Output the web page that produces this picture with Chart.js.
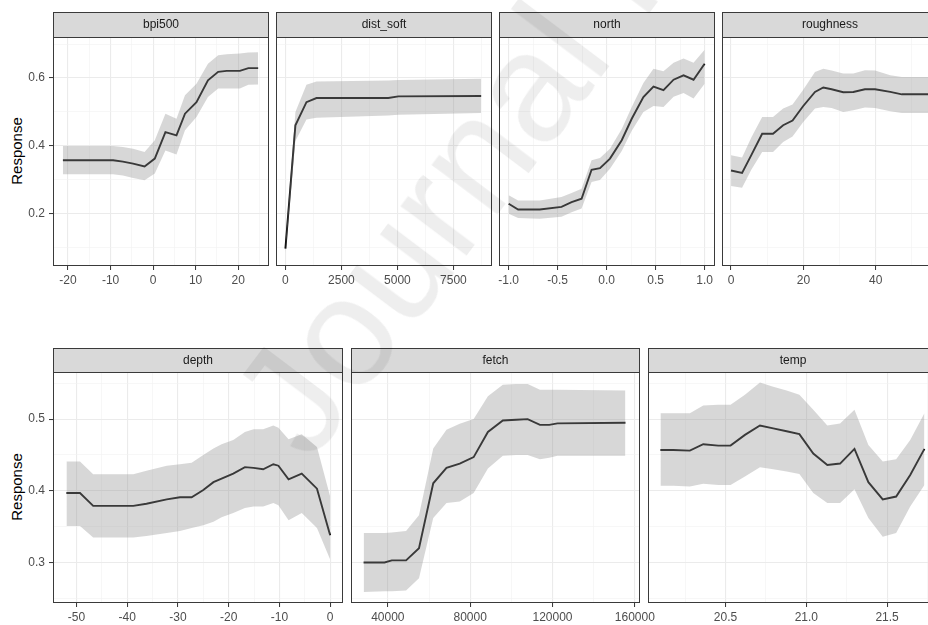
<!DOCTYPE html>
<html>
<head>
<meta charset="utf-8">
<script src="https://cdn.jsdelivr.net/npm/chart.js@4.4.1/dist/chart.umd.min.js"></script>
<style>
  html, body { margin:0; padding:0; background:#fff; }
  body { width:928px; height:625px; overflow:hidden; position:relative; font-family:"Liberation Sans", Arial, sans-serif; }
  canvas { position:absolute; }
  .ylab { position:absolute; width:120px; height:18px; line-height:18px; text-align:center; font-size:15px; color:#000;
          transform: rotate(-90deg); transform-origin: 50% 50%; }
  #wm { position:absolute; left:205px; top:385px; font-size:155px; line-height:1; color:rgba(0,0,0,0.065);
        white-space:nowrap; transform-origin:0 0; transform:rotate(-53deg); pointer-events:none; z-index:5; }
</style>
</head>
<body>
<div class="ylab" style="left:-43px; top:142px;">Response</div>
<div class="ylab" style="left:-43px; top:478px;">Response</div>
<div id="wm">Journal Pre-proof</div>
<script>
// ---------------- data ----------------
const bpiX  = [-21.2, -9.4, -7.1, -4.7, -2.0, 0.4, 2.9, 5.5, 7.5, 10.2, 12.9, 15.3, 17.3, 20.4, 22.4, 24.7];
const bpiY  = [0.358, 0.358, 0.354, 0.348, 0.340, 0.363, 0.441, 0.431, 0.495, 0.529, 0.593, 0.618, 0.621, 0.621, 0.629, 0.629];
const bpiUp = [0.400, 0.400, 0.397, 0.392, 0.382, 0.417, 0.495, 0.480, 0.549, 0.583, 0.642, 0.667, 0.670, 0.672, 0.675, 0.676];
const bpiLo = [0.317, 0.317, 0.313, 0.306, 0.299, 0.319, 0.387, 0.375, 0.446, 0.485, 0.544, 0.569, 0.569, 0.569, 0.580, 0.581];

const distX  = [0, 447, 939, 1387, 4592, 5040, 8737];
const distY  = [0.098, 0.461, 0.529, 0.541, 0.541, 0.546, 0.547];
const distUp = [0.110, 0.500, 0.580, 0.590, 0.593, 0.594, 0.598];
const distLo = [0.085, 0.415, 0.478, 0.483, 0.490, 0.492, 0.497];

const northX  = [-1.0, -0.904, -0.683, -0.461, -0.358, -0.256, -0.154, -0.068, 0.034, 0.154, 0.256, 0.375, 0.478, 0.580, 0.683, 0.785, 0.887, 1.0];
const northY  = [0.230, 0.213, 0.213, 0.221, 0.235, 0.245, 0.330, 0.335, 0.363, 0.417, 0.480, 0.544, 0.575, 0.564, 0.595, 0.608, 0.595, 0.642];
const northUp = [0.255, 0.240, 0.240, 0.250, 0.262, 0.274, 0.358, 0.365, 0.392, 0.450, 0.515, 0.585, 0.627, 0.620, 0.645, 0.657, 0.645, 0.683];
const northLo = [0.201, 0.188, 0.186, 0.192, 0.205, 0.216, 0.294, 0.300, 0.333, 0.385, 0.445, 0.500, 0.518, 0.515, 0.545, 0.556, 0.540, 0.583];

const roughX  = [0, 3.05, 5.6, 8.6, 11.6, 14.4, 17.0, 19.9, 23.2, 25.5, 27.8, 31.0, 33.8, 37.0, 39.8, 44.0, 47.2, 54.5];
const roughY  = [0.328, 0.321, 0.373, 0.436, 0.436, 0.461, 0.475, 0.517, 0.559, 0.572, 0.567, 0.558, 0.559, 0.567, 0.567, 0.559, 0.552, 0.552];
const roughUp = [0.373, 0.366, 0.425, 0.485, 0.485, 0.510, 0.522, 0.565, 0.618, 0.627, 0.622, 0.613, 0.613, 0.623, 0.622, 0.608, 0.603, 0.603];
const roughLo = [0.282, 0.277, 0.330, 0.382, 0.382, 0.412, 0.428, 0.470, 0.510, 0.515, 0.512, 0.500, 0.505, 0.513, 0.512, 0.502, 0.497, 0.497];

const depthX  = [-51.97, -49.3, -46.7, -38.8, -36.2, -32.2, -29.6, -27.3, -25.0, -23.0, -21.4, -19.1, -16.8, -15.1, -13.2, -11.2, -10.2, -8.2, -5.6, -2.6, 0];
const depthY  = [0.397, 0.397, 0.379, 0.379, 0.382, 0.388, 0.391, 0.391, 0.401, 0.412, 0.417, 0.424, 0.433, 0.432, 0.430, 0.437, 0.435, 0.416, 0.424, 0.403, 0.338];
const depthUp = [0.441, 0.441, 0.423, 0.423, 0.428, 0.435, 0.437, 0.439, 0.450, 0.459, 0.465, 0.471, 0.482, 0.486, 0.486, 0.491, 0.488, 0.472, 0.479, 0.461, 0.392];
const depthLo = [0.351, 0.351, 0.335, 0.335, 0.337, 0.341, 0.344, 0.348, 0.352, 0.357, 0.363, 0.369, 0.376, 0.378, 0.378, 0.383, 0.380, 0.359, 0.369, 0.348, 0.304];

const fetchX  = [28250, 38390, 41930, 48850, 55130, 62050, 68490, 74930, 81690, 88610, 95860, 102300, 107930, 113890, 118400, 122420, 155420];
const fetchY  = [0.300, 0.300, 0.303, 0.303, 0.320, 0.4105, 0.432, 0.438, 0.447, 0.482, 0.498, 0.499, 0.500, 0.492, 0.492, 0.494, 0.495];
const fetchUp = [0.341, 0.341, 0.342, 0.344, 0.366, 0.459, 0.485, 0.4935, 0.500, 0.532, 0.548, 0.549, 0.549, 0.541, 0.541, 0.541, 0.540];
const fetchLo = [0.259, 0.260, 0.260, 0.261, 0.278, 0.362, 0.383, 0.385, 0.397, 0.431, 0.449, 0.450, 0.450, 0.444, 0.446, 0.449, 0.449];

const tempX  = [20.097, 20.176, 20.279, 20.362, 20.455, 20.531, 20.620, 20.713, 20.795, 20.878, 20.957, 21.043, 21.130, 21.209, 21.298, 21.384, 21.473, 21.556, 21.643, 21.731];
const tempY  = [0.457, 0.457, 0.456, 0.465, 0.463, 0.463, 0.478, 0.491, 0.487, 0.483, 0.479, 0.452, 0.436, 0.438, 0.4585, 0.412, 0.388, 0.392, 0.422, 0.4585];
const tempUp = [0.508, 0.508, 0.508, 0.519, 0.520, 0.520, 0.534, 0.551, 0.545, 0.540, 0.534, 0.513, 0.491, 0.494, 0.513, 0.464, 0.441, 0.444, 0.471, 0.508];
const tempLo = [0.407, 0.407, 0.406, 0.410, 0.408, 0.408, 0.420, 0.433, 0.430, 0.427, 0.4235, 0.397, 0.383, 0.383, 0.402, 0.362, 0.336, 0.341, 0.378, 0.408];

// tick values
const topYMajor = [0.2, 0.4, 0.6];          const topYMinor = [0.1, 0.3, 0.5, 0.7];
const botYMajor = [0.3, 0.4, 0.5];          const botYMinor = [0.25, 0.35, 0.45, 0.55];
const bpiTicks   = [-20, -10, 0, 10, 20];   const bpiMinor   = [-15, -5, 5, 15, 25];
const distTicks  = [0, 2500, 5000, 7500];   const distMinor  = [1250, 3750, 6250, 8750];
const northTicks = [-1, -0.5, 0, 0.5, 1];   const northMinor = [-0.75, -0.25, 0.25, 0.75];
const roughTicks = [0, 20, 40];             const roughMinor = [10, 30, 50];
const depthTicks = [-50, -40, -30, -20, -10, 0]; const depthMinor = [-45, -35, -25, -15, -5];
const fetchTicks = [40000, 80000, 120000, 160000]; const fetchMinor = [60000, 100000, 140000];
const tempTicks  = [20.5, 21.0, 21.5];      const tempMinor  = [20.25, 20.75, 21.25, 21.75];

// ---------------- drawing ----------------
const FONT = "'Liberation Sans', Arial, sans-serif";
const TXT = '#4D4D4D';
const GRID_MAJ = '#EBEBEB';
const GRID_MIN = '#F2F2F2';
const BORDER = '#3A3A3A';
const RIBBON = 'rgba(150,150,150,0.38)';
const PADL = 55, PADR = 45, XH = 26;

const isIn = (arr, v) => arr.some(m => Math.abs(m - v) < 1e-9);

const stripPlugin = {
  id: 'strip',
  afterDatasetsDraw(chart, args, o) {
    const { ctx, chartArea: a } = chart;
    ctx.save();
    ctx.strokeStyle = BORDER; ctx.lineWidth = 1;
    ctx.strokeRect(a.left + 0.5, a.top + 0.5, a.right - a.left - 1, a.bottom - a.top - 1);
    ctx.fillStyle = '#D9D9D9';
    ctx.fillRect(a.left, a.top - o.h, a.right - a.left, o.h);
    ctx.strokeRect(a.left + 0.5, a.top - o.h + 0.5, a.right - a.left - 1, o.h);
    ctx.fillStyle = '#1A1A1A';
    ctx.font = '12px ' + FONT;
    ctx.textAlign = 'center'; ctx.textBaseline = 'middle';
    ctx.fillText(o.title, (a.left + a.right) / 2, a.top - o.h / 2 + 0.5);
    ctx.restore();
  }
};

function axisCfg(horizontal, min, max, major, minor, fmt, showLabels) {
  const all = major.concat(minor).filter(v => v >= min && v <= max).sort((a, b) => a - b);
  return {
    type: 'linear', min, max,
    afterBuildTicks: s => { s.ticks = all.map(v => ({ value: v })); },
    afterFit: s => {
      if (horizontal) s.height = XH; else s.width = PADL;
      s.paddingLeft = 0; s.paddingRight = 0; s.paddingTop = 0; s.paddingBottom = 0;
    },
    border: { display: false },
    grid: {
      color: c => (c.tick && isIn(major, c.tick.value)) ? GRID_MAJ : GRID_MIN,
      lineWidth: c => (c.tick && isIn(major, c.tick.value)) ? 1.1 : 0.6,
      drawTicks: showLabels,
      tickLength: 4,
      tickWidth: 1,
      tickColor: c => (c.tick && isIn(major, c.tick.value)) ? '#333333' : 'rgba(0,0,0,0)'
    },
    ticks: {
      display: showLabels,
      autoSkip: false, maxRotation: 0, minRotation: 0,
      padding: horizontal ? 3 : 4,
      color: TXT,
      font: { family: FONT, size: 12 },
      callback: v => isIn(major, v) ? fmt(v) : ''
    }
  };
}

function panel(p) {
  const c = document.createElement('canvas');
  const W = PADL + p.w + PADR, H = p.stripH + p.h + XH;
  c.width = W; c.height = H;
  c.style.left = (p.left - PADL) + 'px';
  c.style.top = p.stripTop + 'px';
  c.style.width = W + 'px'; c.style.height = H + 'px';
  document.body.appendChild(c);
  const pts = (xs, ys) => xs.map((x, i) => ({ x, y: ys[i] }));
  new Chart(c.getContext('2d'), {
    type: 'line',
    data: {
      datasets: [
        { data: pts(p.xs, p.up), borderColor: 'transparent', borderWidth: 0, pointRadius: 0, fill: '+1', backgroundColor: RIBBON, tension: 0 },
        { data: pts(p.xs, p.lo), borderColor: 'transparent', borderWidth: 0, pointRadius: 0, fill: false, tension: 0 },
        { data: pts(p.xs, p.ys), borderColor: '#000', borderWidth: 1.9, pointRadius: 0, fill: false, tension: 0 }
      ]
    },
    options: {
      responsive: false, maintainAspectRatio: false, animation: false,
      layout: { padding: { left: 0, right: PADR, top: p.stripH, bottom: 0 } },
      plugins: { legend: { display: false }, tooltip: { enabled: false }, strip: { title: p.title, h: p.stripH } },
      scales: {
        x: axisCfg(true, p.xMin, p.xMax, p.xMajor, p.xMinor, p.fmt, true),
        y: axisCfg(false, p.yMin, p.yMax, p.yMajor, p.yMinor, v => v.toFixed(1), p.showY)
      }
    },
    plugins: [stripPlugin]
  });
}

const str = v => String(v);
const f1 = v => v.toFixed(1);
const TOP = { stripTop: 12, stripH: 25, h: 229, yMin: 0.047, yMax: 0.7206, yMajor: topYMajor, yMinor: topYMinor };
const BOT = { stripTop: 348, stripH: 24, h: 231, yMin: 0.2435, yMax: 0.5657, yMajor: botYMajor, yMinor: botYMinor };

panel(Object.assign({}, TOP, { title: 'bpi500', left: 53, w: 216, xs: bpiX, ys: bpiY, up: bpiUp, lo: bpiLo, xMin: -23.53, xMax: 27.25, xMajor: bpiTicks, xMinor: bpiMinor, fmt: str, showY: true }));
panel(Object.assign({}, TOP, { title: 'dist_soft', left: 276, w: 216, xs: distX, ys: distY, up: distUp, lo: distLo, xMin: -420, xMax: 9222, xMajor: distTicks, xMinor: distMinor, fmt: str, showY: false }));
panel(Object.assign({}, TOP, { title: 'north', left: 499, w: 216, xs: northX, ys: northY, up: northUp, lo: northLo, xMin: -1.099, xMax: 1.106, xMajor: northTicks, xMinor: northMinor, fmt: f1, showY: false }));
panel(Object.assign({}, TOP, { title: 'roughness', left: 722, w: 216, xs: roughX, ys: roughY, up: roughUp, lo: roughLo, xMin: -2.5, xMax: 57.2, xMajor: roughTicks, xMinor: roughMinor, fmt: str, showY: false }));

panel(Object.assign({}, BOT, { title: 'depth', left: 53, w: 290, xs: depthX, ys: depthY, up: depthUp, lo: depthLo, xMin: -54.62, xMax: 2.53, xMajor: depthTicks, xMinor: depthMinor, fmt: str, showY: true }));
panel(Object.assign({}, BOT, { title: 'fetch', left: 351, w: 289, xs: fetchX, ys: fetchY, up: fetchUp, lo: fetchLo, xMin: 22100, xMax: 162500, xMajor: fetchTicks, xMinor: fetchMinor, fmt: str, showY: false }));
panel(Object.assign({}, BOT, { title: 'temp', left: 648, w: 290, xs: tempX, ys: tempY, up: tempUp, lo: tempLo, xMin: 20.02, xMax: 21.815, xMajor: tempTicks, xMinor: tempMinor, fmt: f1, showY: false }));
</script>
</body>
</html>
